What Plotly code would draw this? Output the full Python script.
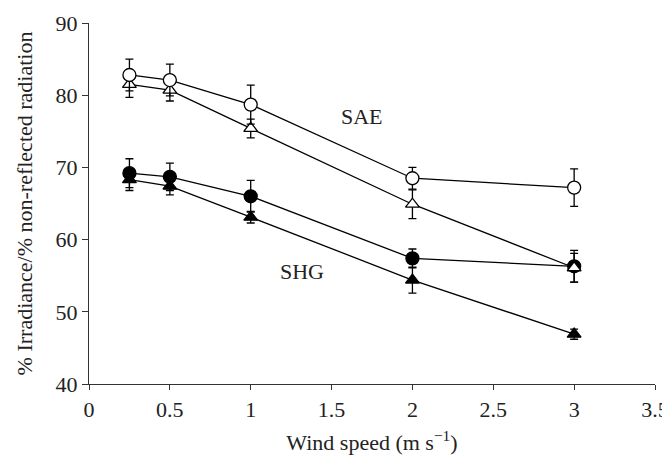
import plotly.graph_objects as go

wind = [0.25, 0.5, 1, 2, 3]

sae_circle = [82.8, 82.1, 78.7, 68.5, 67.2]
sae_circle_err = [2.2, 2.2, 2.7, 1.5, 2.6]

sae_tri = [81.5, 80.7, 75.4, 64.9, 56.1]
sae_tri_err = [1.8, 1.5, 1.3, 2.0, 2.0]

shg_circle = [69.2, 68.7, 66.0, 57.4, 56.3]
shg_circle_err = [2.0, 1.9, 2.2, 1.3, 2.2]

shg_tri = [68.3, 67.4, 63.1, 54.4, 46.9]
shg_tri_err = [1.5, 1.2, 0.8, 1.8, 0.7]

x_ticks = [0, 0.5, 1, 1.5, 2, 2.5, 3, 3.5]
x_tick_labels = ["0", "0.5", "1", "1.5", "2", "2.5", "3", "3.5"]
y_ticks = [40, 50, 60, 70, 80, 90]

FONT = "Liberation Serif"
FS = 22

fig = go.Figure()

def add(y, err, symbol, fill):
    fig.add_trace(go.Scatter(
        x=wind, y=y, mode="lines+markers",
        line=dict(color="black", width=1.3),
        marker=dict(symbol=symbol, size=13 if "circle" in symbol else 12,
                    color=fill, line=dict(color="black", width=1.3)),
        error_y=dict(type="data", array=err, visible=True, color="black",
                     thickness=1.3, width=4),
        showlegend=False,
    ))

add(shg_tri, shg_tri_err, "triangle-up", "black")
add(shg_circle, shg_circle_err, "circle", "black")
add(sae_tri, sae_tri_err, "triangle-up", "white")
add(sae_circle, sae_circle_err, "circle", "white")

fig.add_annotation(x=1.688, y=77.1, text="SAE", showarrow=False,
                   font=dict(family=FONT, size=FS, color="#222"))
fig.add_annotation(x=1.315, y=55.6, text="SHG", showarrow=False,
                   font=dict(family=FONT, size=FS, color="#222"))

# page body has an 8px margin; figure is sized/offset to compensate
fig.update_layout(
    width=662, height=455,
    margin=dict(l=81, r=15, t=15, b=79),
    paper_bgcolor="white", plot_bgcolor="white",
    font=dict(family=FONT, size=FS, color="#222"),
    xaxis=dict(range=[0, 3.5], tickvals=x_ticks, ticktext=x_tick_labels,
               showgrid=False, zeroline=False, showline=True,
               linecolor="#333", linewidth=1.3, ticks="outside",
               ticklen=5, tickcolor="#333", automargin=False,
               tickfont=dict(family=FONT, size=FS),
               title=dict(text="Wind speed (m s<sup>−1</sup>)", standoff=14,
                          font=dict(family=FONT, size=FS))),
    yaxis=dict(range=[40, 90], tickvals=y_ticks,
               showgrid=False, zeroline=False, showline=True,
               linecolor="#333", linewidth=1.3, ticks="outside",
               ticklen=6, tickcolor="#333", automargin=False,
               tickfont=dict(family=FONT, size=FS),
               title=dict(text="% Irradiance/% non-reflected radiation",
                          standoff=16, font=dict(family=FONT, size=22))),
)

fig.write_html("out.html")
